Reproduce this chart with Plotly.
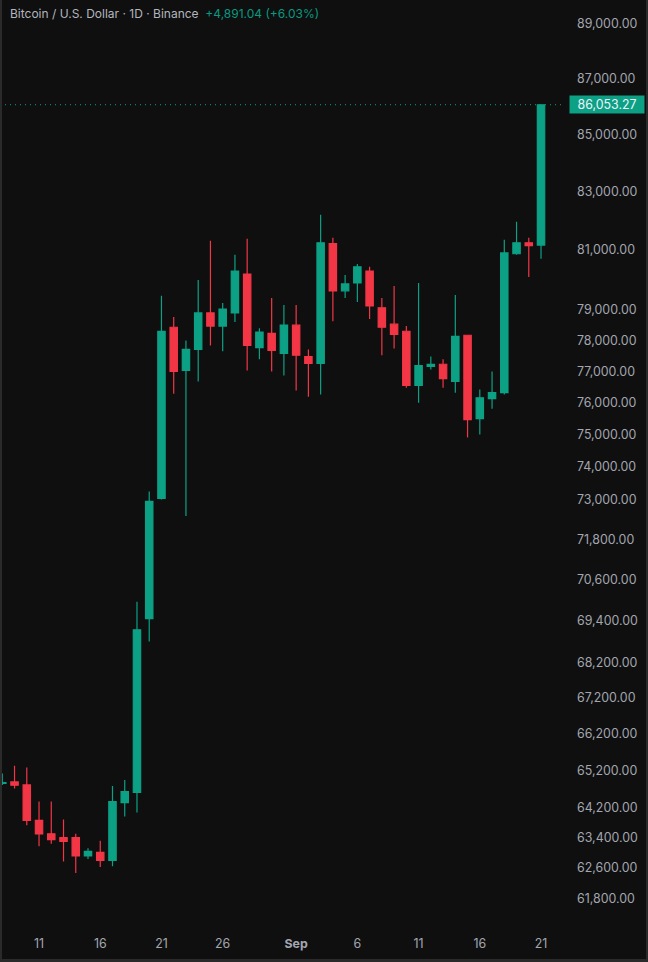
import numpy as np
import plotly.graph_objects as go

dates = ["2024-08-%02d" % d for d in range(8, 32)] + ["2024-09-%02d" % d for d in range(1, 22)]
opens = [64850, 64890, 64810, 63860, 63500, 63400, 63400, 62920, 63010, 62800, 64330, 64610, 69460, 73030, 78430,
         77030, 77710, 78900, 78470, 78900, 80190, 77770, 78230, 77580,
         78500, 77480, 77260, 81210, 79630, 79890, 80290, 79070, 78530, 78300, 76550, 77160, 77230, 76680, 78170,
         75500, 76130, 76320, 80870, 81240, 81162.23]
highs = [65120, 65330, 65280, 64360, 64360, 63880, 63500, 63120, 63320, 64780, 64940, 69950, 73240, 79470, 78770,
         78000, 79990, 81310, 79230, 80840, 81380, 78400, 79390, 79160,
         79160, 77710, 82200, 81410, 80160, 80530, 80430, 79390, 79790, 78470, 79890, 77480, 77390, 79490, 78170,
         76420, 77000, 81340, 81960, 81410, 86053.27]
lows = [64810, 64710, 63730, 63170, 63240, 62770, 62470, 62840, 62630, 62650, 63960, 64070, 68800, 73000, 76290,
        72500, 76680, 77840, 77650, 78600, 77030, 77390, 77000, 76870,
        76390, 76190, 76260, 78630, 79390, 79260, 78700, 77520, 77740, 76480, 76000, 77060, 76480, 76320, 74910,
        75000, 75810, 76260, 80840, 80090, 80700]
closes = [64870, 64800, 63860, 63500, 63350, 63300, 62920, 63040, 62800, 64360, 64630, 69140, 72940, 78300, 77000,
          77710, 78900, 78470, 79030, 80290, 77840, 78270, 77680, 78500,
          77520, 77260, 81240, 79630, 79860, 80430, 79130, 78430, 78200, 76550, 77190, 77230, 76770, 78130, 75470,
          76160, 76320, 80900, 81240, 81140, 86053.27]
price_ticks = [89000, 87000, 85000, 83000, 81000, 79000, 78000, 77000, 76000, 75000, 74000, 73000, 71800, 70600,
               69400, 68200, 67200, 66200, 65200, 64200, 63400, 62600, 61800]
date_ticks = ["2024-08-11", "2024-08-16", "2024-08-21", "2024-08-26", "2024-09-01", "2024-09-06", "2024-09-11",
              "2024-09-16", "2024-09-21"]
date_labels = ["11", "16", "21", "26", "<b>Sep</b>", "6", "11", "16", "21"]
last_price = 86053.27
title_text = "Bitcoin / U.S. Dollar · 1D · Binance"
change_text = "+4,891.04 (+6.03%)"

BG = "#0f0f0f"
GREEN = "#0ca085"
TEXT_GREEN = "#089981"
RED = "#f23645"
EDGE = "#2a2a2a"
FONT = "Inter, 'Open Sans', sans-serif"

fig = go.Figure(go.Candlestick(
    x=dates, open=opens, high=highs, low=lows, close=closes,
    whiskerwidth=0,
    increasing=dict(line=dict(color=GREEN, width=1.2), fillcolor=GREEN),
    decreasing=dict(line=dict(color=RED, width=1.2), fillcolor=RED),
    showlegend=False,
))

fig.add_shape(type="line", xref="paper", x0=0, x1=1, yref="y", y0=last_price, y1=last_price,
              line=dict(color=GREEN, width=1, dash="1px 4px"))
fig.add_annotation(xref="paper", x=1.007, xanchor="left", yref="y", y=np.log10(last_price), yanchor="middle",
                   text=f"{last_price:,.2f}", showarrow=False, bgcolor=GREEN, borderpad=0, width=74, height=17,
                   align="center", font=dict(family=FONT, size=12.4, color="#f0f3fa"))
fig.add_annotation(xref="paper", yref="paper", x=0.0142, y=1.0, xanchor="left", yanchor="top", yshift=-4,
                   text=f"<span style='color:#b2b5be'>{title_text}</span>  <span style='color:{TEXT_GREEN}'>{change_text}</span>",
                   showarrow=False, font=dict(family=FONT, size=12))
# thin lighter frame along the window's left, bottom and right edges
fig.add_shape(type="line", xref="paper", yref="paper", x0=1 / 565, x1=1 / 565, y0=-27 / 935, y1=1,
              line=dict(color=EDGE, width=2))
fig.add_shape(type="line", xref="paper", yref="paper", x0=0, x1=648 / 565, y0=-25.5 / 935, y1=-25.5 / 935,
              line=dict(color=EDGE, width=3))
fig.add_shape(type="line", xref="paper", yref="paper", x0=647 / 565, x1=647 / 565, y0=-27 / 935, y1=1,
              line=dict(color=EDGE, width=2))

fig.update_layout(
    width=648, height=962, autosize=False,
    paper_bgcolor=BG, plot_bgcolor=BG,
    margin=dict(l=0, r=83, t=0, b=27),
    boxgap=0.14,
    font=dict(family=FONT, color="#a3a6af", size=12),
    xaxis=dict(type="date", range=["2024-08-07 19:30", "2024-09-22 23:00"], rangeslider=dict(visible=False),
               tickvals=date_ticks, ticktext=date_labels, showgrid=False, zeroline=False, ticks="",
               showline=False, tickfont=dict(size=12.4)),
    yaxis=dict(type="log", side="right", range=[np.log10(60879), np.log10(89893)], tickvals=price_ticks,
               tickformat=",.2f", showgrid=False, zeroline=False, ticks="", showline=False, ticklabelstandoff=11,
               tickfont=dict(size=12.4)),
)
fig.write_html("out.html", config={"displayModeBar": False},
               post_script="document.body.style.margin='0';document.body.style.background='#0f0f0f';")
